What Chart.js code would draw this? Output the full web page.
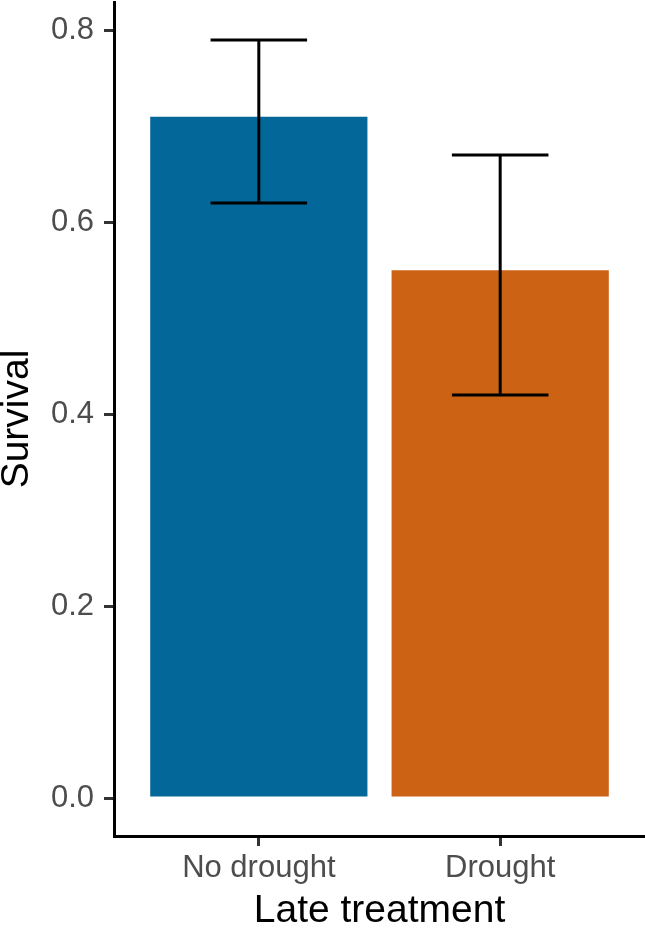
<!DOCTYPE html>
<html>
<head>
<meta charset="utf-8">
<script src="https://cdn.jsdelivr.net/npm/chart.js@4"></script>
<style>
  body { margin: 0; background: #fff; }
  canvas { display: block; }
</style>
</head>
<body>
<canvas id="grafico" width="645" height="929"></canvas>
<script>
// datos
var categorias = ['No drought', 'Drought'];
var posiciones = [1, 2];
var supervivencia = [0.71, 0.55];
var errorInferior = [0.62, 0.42];
var errorSuperior = [0.79, 0.67];
var marcasY = [0, 0.2, 0.4, 0.6, 0.8];
var colores = ['#036799', '#CC6213'];

var fuente = 'Liberation Sans, Arial, Helvetica, sans-serif';

// barras de error dibujadas con las escalas del grafico
var barrasError = {
    id: 'barrasError',
    afterDatasetsDraw: function(chart) {
        var ctx = chart.ctx;
        var x = chart.scales.x;
        var y = chart.scales.y;
        ctx.save();
        ctx.strokeStyle = '#000';
        ctx.lineWidth = 3;
        ctx.lineCap = 'butt';
        for (var i = 0; i < posiciones.length; i++) {
            var xc = x.getPixelForValue(posiciones[i]);
            var xi = x.getPixelForValue(posiciones[i] - 0.2);
            var xd = x.getPixelForValue(posiciones[i] + 0.2);
            var ya = y.getPixelForValue(errorSuperior[i]);
            var yb = y.getPixelForValue(errorInferior[i]);
            ctx.beginPath();
            ctx.moveTo(xc, ya);
            ctx.lineTo(xc, yb);
            ctx.moveTo(xi, ya);
            ctx.lineTo(xd, ya);
            ctx.moveTo(xi, yb);
            ctx.lineTo(xd, yb);
            ctx.stroke();
        }
        ctx.restore();
    }
};

var ctx = document.getElementById('grafico').getContext('2d');

new Chart(ctx, {
    type: 'bar',
    data: {
        datasets: [{
            data: posiciones.map(function(p, i) { return { x: p, y: supervivencia[i] }; }),
            backgroundColor: colores,
            borderWidth: 0,
            barPercentage: 0.9,
            categoryPercentage: 1.0
        }]
    },
    options: {
        responsive: false,
        animation: false,
        devicePixelRatio: 1,
        layout: { padding: { top: 2, right: 0, left: 0, bottom: 0 } },
        plugins: {
            legend: { display: false },
            tooltip: { enabled: false }
        },
        scales: {
            x: {
                type: 'linear',
                offset: false,
                min: 0.4,
                max: 2.6,
                afterBuildTicks: function(scale) {
                    scale.ticks = posiciones.map(function(p) { return { value: p }; });
                },
                afterFit: function(scale) {
                    scale.height = 93;
                    scale.paddingLeft = 0;
                    scale.paddingRight = 0;
                },
                ticks: {
                    autoSkip: false,
                    maxRotation: 0,
                    padding: 4,
                    color: '#4D4D4D',
                    font: { family: fuente, size: 31 },
                    callback: function(value) {
                        return categorias[posiciones.indexOf(value)];
                    }
                },
                grid: {
                    offset: false,
                    drawOnChartArea: false,
                    drawTicks: true,
                    tickLength: 10,
                    lineWidth: 3,
                    color: '#333333'
                },
                border: { display: true, color: '#000', width: 3 },
                title: {
                    display: true,
                    text: 'Late treatment',
                    color: '#000',
                    font: { family: fuente, size: 39, lineHeight: 0.9 },
                    padding: 0
                }
            },
            y: {
                min: -0.0395,
                max: 0.8295,
                afterBuildTicks: function(scale) {
                    scale.ticks = marcasY.map(function(v) { return { value: v }; });
                },
                afterFit: function(scale) {
                    scale.width = 114;
                    scale.paddingTop = 0;
                    scale.paddingBottom = 0;
                },
                ticks: {
                    padding: 10,
                    color: '#4D4D4D',
                    font: { family: fuente, size: 31 },
                    callback: function(value) { return value.toFixed(1); }
                },
                grid: {
                    drawOnChartArea: false,
                    drawTicks: true,
                    tickLength: 10,
                    lineWidth: 3,
                    color: '#333333'
                },
                border: { display: true, color: '#000', width: 3 },
                title: {
                    display: true,
                    text: 'Survival',
                    color: '#000',
                    font: { family: fuente, size: 39, lineHeight: 0.9 },
                    padding: 0
                }
            }
        }
    },
    plugins: [barrasError]
});
</script>
</body>
</html>
